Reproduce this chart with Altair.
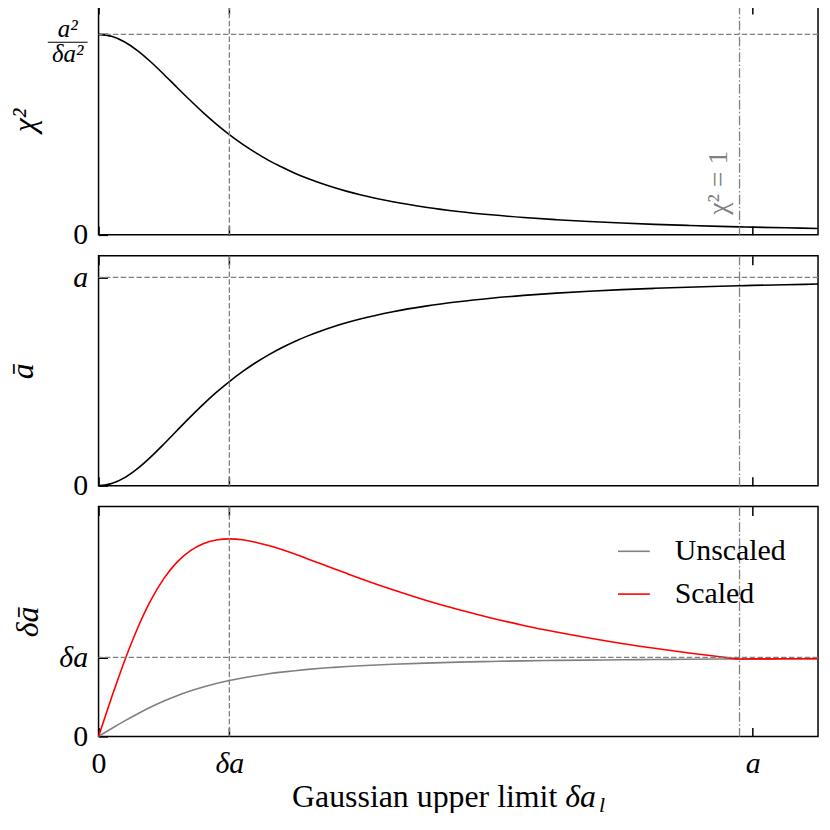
import altair as alt
import pandas as pd

# ---------------- data ----------------
# x: Gaussian upper limit, in units of δa (a = 5 δa)
x_vals = [0, 0.1, 0.2, 0.3, 0.4, 0.5, 0.6, 0.7, 0.8, 0.9, 1.0, 1.1, 1.2, 1.3, 1.4,
          1.5, 1.6, 1.7, 1.8, 1.9, 2.0, 2.25, 2.5, 2.75, 3.0, 3.25, 3.5, 3.75, 4.0,
          4.25, 4.5, 4.75, 4.9, 5.0, 5.25, 5.5]
chi2_vals = [25.0, 24.75, 24.04, 22.94, 21.55, 20.0, 18.38, 16.78, 15.24, 13.81, 12.5,
             11.31, 10.25, 9.29, 8.45, 7.69, 7.02, 6.43, 5.90, 5.42, 5.0, 4.12, 3.45,
             2.92, 2.5, 2.16, 1.89, 1.66, 1.47, 1.31, 1.18, 1.06, 1.0, 0.96, 0.88, 0.80]
abar_vals = [0, 0.050, 0.192, 0.413, 0.690, 1.0, 1.324, 1.644, 1.951, 2.238, 2.5, 2.738,
             2.951, 3.141, 3.311, 3.462, 3.596, 3.715, 3.821, 3.915, 4.0, 4.175, 4.310,
             4.416, 4.5, 4.568, 4.623, 4.668, 4.706, 4.738, 4.765, 4.788, 4.800, 4.808,
             4.825, 4.840]
unscaled_vals = [0, 0.10, 0.196, 0.287, 0.371, 0.447, 0.515, 0.574, 0.625, 0.669, 0.707,
                 0.740, 0.768, 0.793, 0.814, 0.832, 0.848, 0.862, 0.874, 0.885, 0.894,
                 0.914, 0.928, 0.940, 0.949, 0.956, 0.962, 0.966, 0.970, 0.973, 0.976,
                 0.979, 0.980, 0.981, 0.982, 0.984]
scaled_vals = [0, 0.495, 0.962, 1.376, 1.724, 2.0, 2.206, 2.349, 2.439, 2.486, 2.5, 2.489,
               2.459, 2.416, 2.365, 2.308, 2.247, 2.185, 2.123, 2.061, 2.0, 1.856, 1.724,
               1.606, 1.5, 1.405, 1.321, 1.245, 1.176, 1.115, 1.059, 1.008, 0.980, 0.981,
               0.982, 0.984]

x_ticks = [0, 1, 5]              # 0, δa, a
chi2_ticks = [0, 25]             # 0, a²/δa²
abar_ticks = [0, 5]              # 0, a
dabar_ticks = [0, 1]             # 0, δa
delta_a_line = [1]               # vertical dashed line at δa
chi_one_line = [4.9]             # dash-dot line where χ² = 1
series_names = ["Unscaled", "Scaled"]

# ---------------- style ----------------
W, H = 723, 231
SPACING = 21
FONT = "Liberation Serif"
FS = 30
YFS = 32
GREY = "#808080"
RED = "#ff0000"
TICK = 9
DASH = [5.5, 2.4]
DASHDOT = [9.6, 2.4, 1.5, 2.4]

x_scale = alt.Scale(domain=[0, 5.5], nice=False, zero=False)
y1_scale = alt.Scale(domain=[0, 28.66], nice=False)
y2_scale = alt.Scale(domain=[0, 5.52], nice=False)
y3_scale = alt.Scale(domain=[0, 2.91], nice=False)

italic_unless_zero = {"condition": {"test": "datum.value == 0", "value": "normal"},
                      "value": "italic"}

common_axis = dict(tickSize=TICK, offset=-TICK, domain=False, grid=False,
                   tickColor="black", tickWidth=1.5, labelFont=FONT,
                   labelFontSize=FS, labelColor="black", labelFlush=False,
                   labelOverlap=False, labelFontStyle=italic_unless_zero)


def bottom_axis(show_labels):
    return alt.Axis(orient="bottom", values=x_ticks, labels=show_labels,
                    labelExpr="datum.value == 0 ? '0' : (datum.value == 1 ? 'δa' : 'a')",
                    labelPadding=12, title=None, **common_axis)


def top_axis():
    return alt.Axis(orient="top", values=x_ticks, labels=False, title=None,
                    **common_axis)


def left_axis(vals, expr, title, tx):
    return alt.Axis(orient="left", values=vals, labelExpr=expr, labelPadding=11,
                    title=title, titleX=tx, titleBaseline="alphabetic",
                    titleFont=FONT, titleFontSize=YFS, titleFontStyle="italic",
                    titleFontWeight="normal", titleColor="black", **common_axis)


AX1 = dict(vals=chi2_ticks, expr="datum.value == 0 ? '0' : ''", title="χ²", tx=-73)
AX2 = dict(vals=abar_ticks, expr="datum.value == 0 ? '0' : 'a'", title="ā", tx=-75)
AX3 = dict(vals=dabar_ticks, expr="datum.value == 0 ? '0' : 'δa'", title="δā", tx=-70)

df = pd.DataFrame({"x": x_vals, "chi2": chi2_vals, "abar": abar_vals,
                   "unscaled": unscaled_vals, "scaled": scaled_vals})
df_dline = pd.DataFrame({"x": delta_a_line})
df_cline = pd.DataFrame({"x": chi_one_line})


def vlines():
    d = alt.Chart(df_dline).mark_rule(color=GREY, strokeWidth=1.3, strokeDash=DASH).encode(
        x=alt.X("x:Q", scale=x_scale, axis=top_axis()))
    c = alt.Chart(df_cline).mark_rule(color=GREY, strokeWidth=1.3, strokeDash=DASHDOT).encode(
        x=alt.X("x:Q", scale=x_scale, axis=None))
    return d, c


def hline(val, yscale, ax):
    return alt.Chart(pd.DataFrame({"y": [val]})).mark_rule(
        color=GREY, strokeWidth=1.3, strokeDash=DASH).encode(
        y=alt.Y("y:Q", scale=yscale, axis=left_axis(**ax)))


# ---------------- panel 1: χ² ----------------
l1 = alt.Chart(df).mark_line(color="black", strokeWidth=1.6, interpolate="monotone").encode(
    x=alt.X("x:Q", scale=x_scale, axis=bottom_axis(False)),
    y=alt.Y("chi2:Q", scale=y1_scale, axis=left_axis(**AX1)))
d1, c1 = vlines()
h1 = hline(chi2_ticks[1], y1_scale, AX1)
frac_df = pd.DataFrame({"y": [chi2_ticks[1]]})
frac_num = alt.Chart(frac_df).mark_text(text="a²", font=FONT, fontSize=25, fontStyle="italic",
                                        align="center", baseline="alphabetic", dy=3,
                                        color="black").encode(
    x=alt.value(-31), y=alt.Y("y:Q", scale=y1_scale, axis=left_axis(**AX1)))
frac_den = alt.Chart(frac_df).mark_text(text="δa²", font=FONT, fontSize=25, fontStyle="italic",
                                        align="center", baseline="alphabetic", dy=28,
                                        color="black").encode(
    x=alt.value(-31), y=alt.Y("y:Q", scale=y1_scale, axis=left_axis(**AX1)))
frac_bar = alt.Chart(frac_df).mark_rule(color="black", strokeWidth=1.1, yOffset=8).encode(
    x=alt.value(-51), x2=alt.value(-11),
    y=alt.Y("y:Q", scale=y1_scale, axis=left_axis(**AX1)))
chi_lbl = alt.Chart(pd.DataFrame({"x": chi_one_line, "y": [2.5]})).mark_text(
    text="χ² = 1", font=FONT, fontSize=28, color=GREY, angle=270, align="left",
    baseline="alphabetic", dy=-13).encode(
    x=alt.X("x:Q", scale=x_scale, axis=None),
    y=alt.Y("y:Q", scale=y1_scale, axis=left_axis(**AX1)))
p1 = alt.layer(l1, d1, c1, h1, frac_num, frac_den, frac_bar, chi_lbl).properties(
    width=W, height=H)

# ---------------- panel 2: ā ----------------
l2 = alt.Chart(df).mark_line(color="black", strokeWidth=1.6, interpolate="monotone").encode(
    x=alt.X("x:Q", scale=x_scale, axis=bottom_axis(False)),
    y=alt.Y("abar:Q", scale=y2_scale, axis=left_axis(**AX2)))
d2, c2 = vlines()
h2 = hline(abar_ticks[1], y2_scale, AX2)
p2 = alt.layer(l2, d2, c2, h2).properties(width=W, height=H)

# ---------------- panel 3: δā ----------------
color_scale = alt.Scale(domain=series_names, range=[GREY, RED])
legend = alt.Legend(title=None, orient="none", legendX=521,
                    legendY=2 * (H + SPACING) + 28,
                    symbolType="stroke", symbolSize=1024, symbolStrokeWidth=1.6,
                    labelFont=FONT, labelFontSize=FS, labelColor="black",
                    labelOffset=24, rowPadding=11, padding=0)
df_un = pd.DataFrame({"x": x_vals, "v": unscaled_vals, "s": series_names[0]})
df_sc = pd.DataFrame({"x": x_vals, "v": scaled_vals, "s": series_names[1]})
l3u = alt.Chart(df_un).mark_line(strokeWidth=1.6, interpolate="monotone").encode(
    x=alt.X("x:Q", scale=x_scale, axis=bottom_axis(True)),
    y=alt.Y("v:Q", scale=y3_scale, axis=left_axis(**AX3)),
    color=alt.Color("s:N", scale=color_scale, legend=legend))
l3s = alt.Chart(df_sc).mark_line(strokeWidth=1.6, interpolate="monotone").encode(
    x=alt.X("x:Q", scale=x_scale, axis=None),
    y=alt.Y("v:Q", scale=y3_scale, axis=left_axis(**AX3)),
    color=alt.Color("s:N", scale=color_scale, legend=legend))
d3, c3 = vlines()
h3 = hline(dabar_ticks[1], y3_scale, AX3)
one = pd.DataFrame({"k": [0]})
TFS = 32
xt1 = alt.Chart(one).mark_text(text="Gaussian upper limit", font=FONT, fontSize=TFS,
                               align="right", baseline="alphabetic", color="black").encode(
    x=alt.value(461), y=alt.value(H + 71))
xt2 = alt.Chart(one).mark_text(text="δa", font=FONT, fontSize=TFS, fontStyle="italic",
                               align="left", baseline="alphabetic", color="black").encode(
    x=alt.value(469), y=alt.value(H + 71))
xt3 = alt.Chart(one).mark_text(text="l", font=FONT, fontSize=22, fontStyle="italic",
                               align="left", baseline="alphabetic", color="black", dy=5).encode(
    x=alt.value(503), y=alt.value(H + 71))
p3 = alt.layer(l3u, l3s, d3, c3, h3, xt1, xt2, xt3).properties(width=W, height=H)

chart = alt.vconcat(p1, p2, p3, spacing=SPACING, bounds="flush").properties(
    padding={"left": -2, "top": -7, "right": 0, "bottom": -6}
).configure(font=FONT, view=alt.ViewConfig(stroke="black", strokeWidth=1.5))

chart.save("out.html", embed_options={"renderer": "svg", "actions": False})
